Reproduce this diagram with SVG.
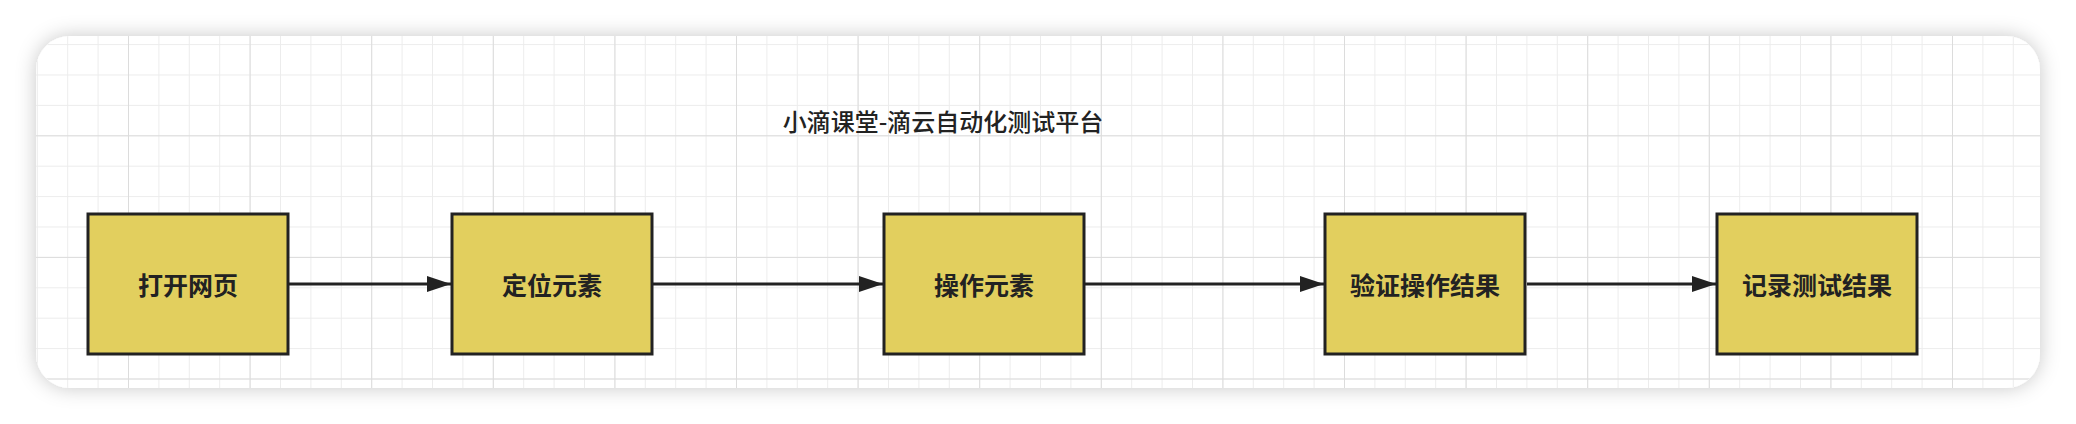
<svg xmlns="http://www.w3.org/2000/svg" width="2076" height="424" viewBox="0 0 2076 424">
<style>
.node rect{fill:#e2cf5e;stroke:#222;stroke-width:3}
.node text{font-family:"Noto Sans CJK SC",sans-serif;font-size:25px;font-weight:bold;fill:#222;text-anchor:middle;dominant-baseline:central}
.edge{stroke:#222;stroke-width:3;fill:none;marker-end:url(#ah)}
</style>
<defs>
<filter id="sh" x="-5%" y="-20%" width="110%" height="140%"><feDropShadow dx="0" dy="0" stdDeviation="10" flood-color="#000" flood-opacity="0.22"/></filter>
<pattern id="minor" x="6.4" y="13.7" width="30.4" height="30.4" patternUnits="userSpaceOnUse"><path d="M0 0V30.4M0 0H30.4" stroke="#ececec" stroke-width="2" fill="none"/></pattern>
<pattern id="major" x="6.4" y="13.7" width="121.6" height="121.6" patternUnits="userSpaceOnUse"><path d="M0 0V121.6M0 0H121.6" stroke="#dcdcdc" stroke-width="2" fill="none"/></pattern>
<marker id="ah" markerWidth="24" markerHeight="18" refX="24" refY="9" orient="auto" markerUnits="userSpaceOnUse"><path d="M0 1L24 9L0 17Z" fill="#222"/></marker>
<clipPath id="card"><rect x="36" y="36" width="2004" height="352" rx="34"/></clipPath>
</defs>
<rect width="2076" height="424" fill="#fff"/>
<rect x="36" y="36" width="2004" height="352" rx="34" fill="#fff" filter="url(#sh)"/>
<g clip-path="url(#card)">
<rect x="36" y="36" width="2004" height="352" fill="url(#minor)"/>
<rect x="36" y="36" width="2004" height="352" fill="url(#major)"/>
</g>
<text x="943" y="120" font-family="Noto Sans CJK SC,sans-serif" font-size="24" font-weight="500" fill="#222" text-anchor="middle" dominant-baseline="central">小滴课堂-滴云自动化测试平台</text>
<g id="connectors">
<path class="edge" d="M289 284H451"/>
<path class="edge" d="M653 284H883"/>
<path class="edge" d="M1085 284H1324"/>
<path class="edge" d="M1527 284H1716"/>
</g>
<g id="n1" class="node"><rect x="88" y="214" width="200" height="140"/><text x="188" y="284">打开网页</text></g>
<g id="n2" class="node"><rect x="452" y="214" width="200" height="140"/><text x="552" y="284">定位元素</text></g>
<g id="n3" class="node"><rect x="884" y="214" width="200" height="140"/><text x="984" y="284">操作元素</text></g>
<g id="n4" class="node"><rect x="1325" y="214" width="200" height="140"/><text x="1425" y="284">验证操作结果</text></g>
<g id="n5" class="node"><rect x="1717" y="214" width="200" height="140"/><text x="1817" y="284">记录测试结果</text></g>
</svg>
